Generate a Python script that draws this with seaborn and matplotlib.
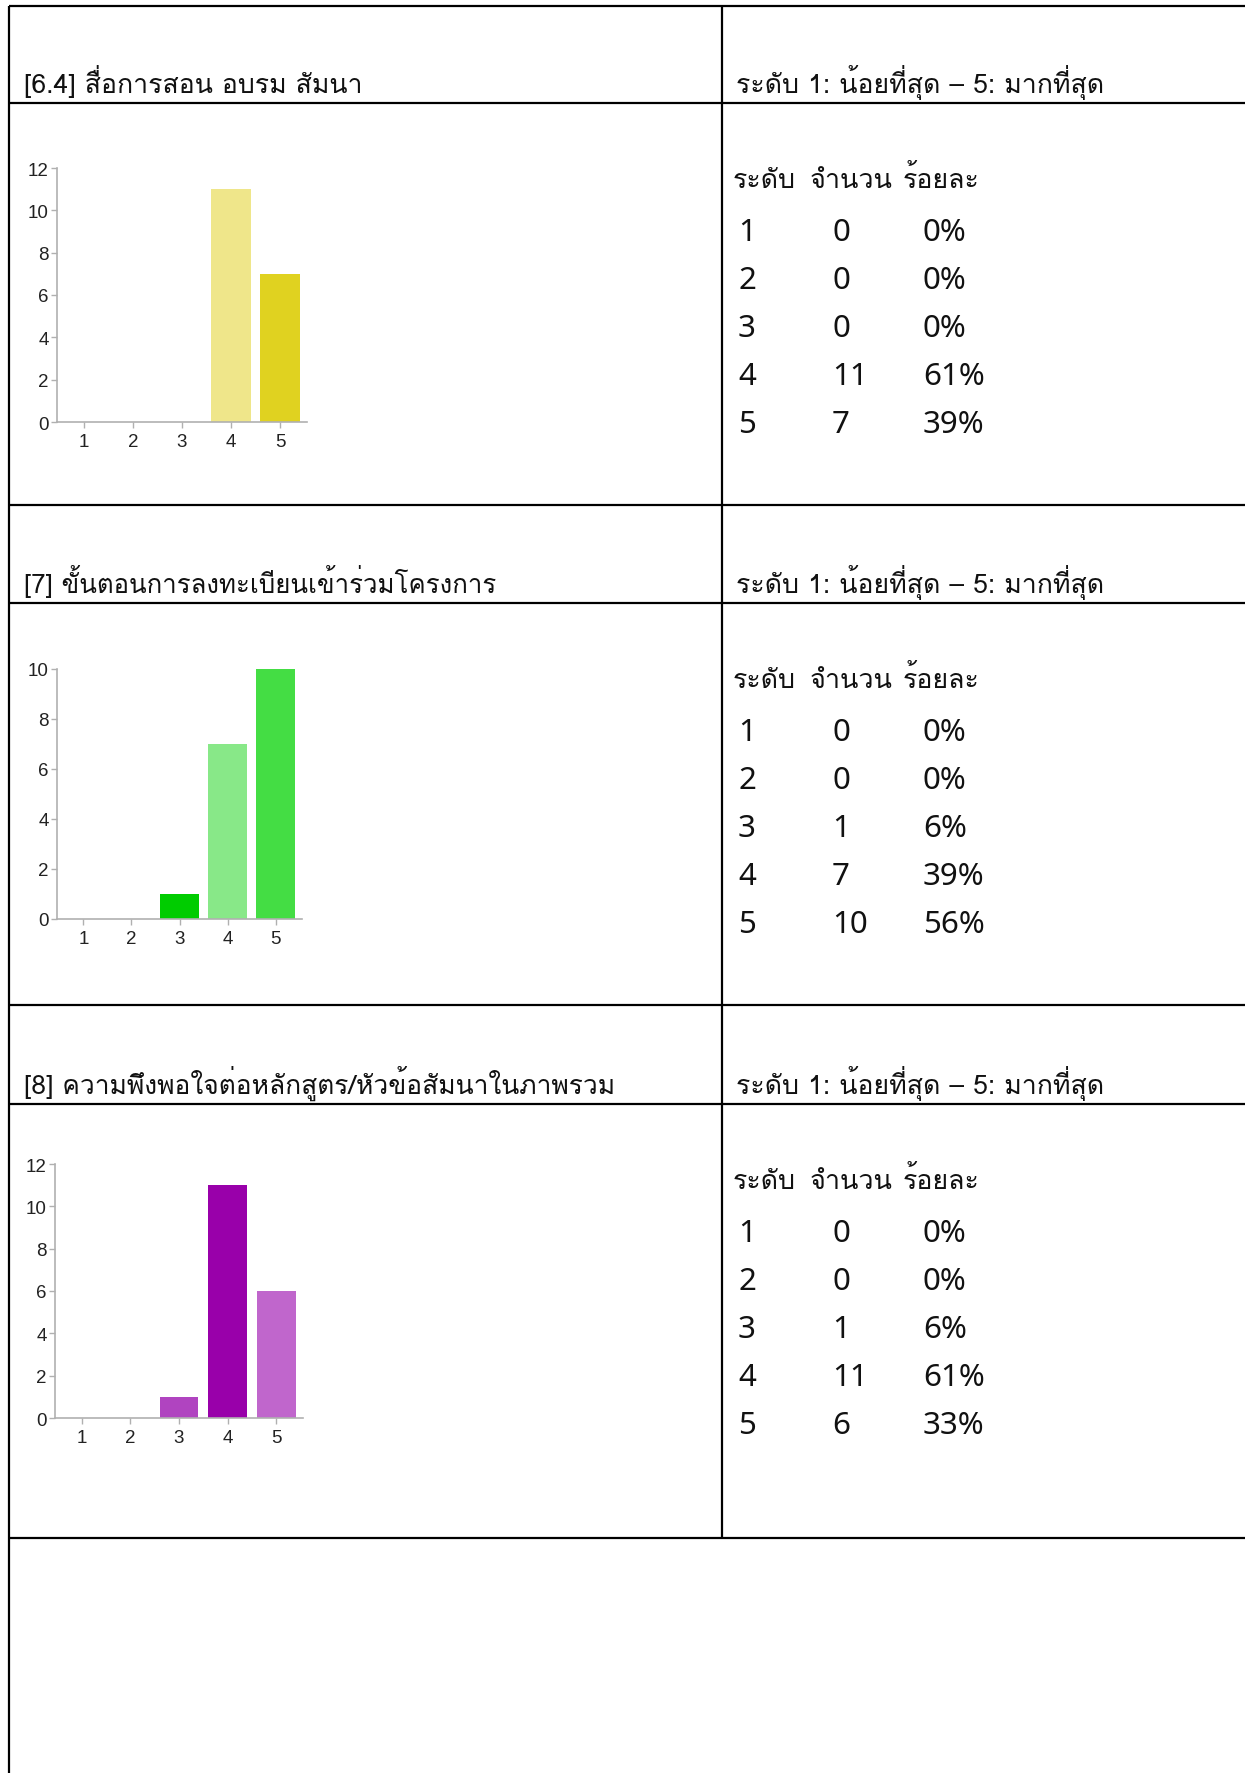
import matplotlib
matplotlib.use("Agg")
import matplotlib.pyplot as plt
import seaborn as sns
import pandas as pd
from matplotlib import font_manager
from matplotlib.ft2font import FT2Font

# ---------------- data ----------------
levels = ["1", "2", "3", "4", "5"]
titles = ["[6.4] สื่อการสอน อบรม สัมนา",
          "[7] ขั้นตอนการลงทะเบียนเข้าร่วมโครงการ",
          "[8] ความพึงพอใจต่อหลักสูตร/หัวข้อสัมนาในภาพรวม"]
scale_label = "ระดับ 1: น้อยที่สุด – 5: มากที่สุด"
table_header = ["ระดับ", "จำนวน", "ร้อยละ"]
counts_64 = [0, 0, 0, 11, 7]
counts_7 = [0, 0, 1, 7, 10]
counts_8 = [0, 0, 1, 11, 6]
pct_64 = ["0%", "0%", "0%", "61%", "39%"]
pct_7 = ["0%", "0%", "6%", "39%", "56%"]
pct_8 = ["0%", "0%", "6%", "61%", "33%"]
yticks_64 = [0, 2, 4, 6, 8, 10, 12]
yticks_7 = [0, 2, 4, 6, 8, 10]
yticks_8 = [0, 2, 4, 6, 8, 10, 12]
colors_64 = ["#e8de60", "#e4da48", "#eae276", "#efe68a", "#e0d220"]
colors_7 = ["#33dd33", "#66e066", "#00cc00", "#88e888", "#44dd44"]
colors_8 = ["#a030b0", "#c070cc", "#b044c0", "#9900aa", "#c066cc"]

# ---------------- fonts ----------------
thai_names = []
seen = set()
for f in font_manager.fontManager.ttflist:
    if f.fname in seen:
        continue
    seen.add(f.fname)
    try:
        cm = FT2Font(f.fname).get_charmap()
    except Exception:
        continue
    if 0x0E01 in cm and 0x0E2A in cm and f.name not in thai_names:
        thai_names.append(f.name)

# Loma places stacked Thai marks correctly without a text shaper
thai_family = None
for cand in ["Loma", "Noto Sans Thai Looped", "Noto Sans Thai", "Sarabun"]:
    if cand in thai_names:
        thai_family = cand
        break
if thai_family is None and thai_names:
    thai_family = thai_names[0]

sns.set_theme(style="white")
fams = ([thai_family] if thai_family else []) + ["Noto Sans", "DejaVu Sans"]
plt.rcParams["font.family"] = fams

W, H = 1245, 1774
fig = plt.figure(figsize=(W / 100, H / 100), dpi=100)
renderer = fig.canvas.get_renderer()

ov = fig.add_axes([0, 0, 1, 1], zorder=0)
ov.set_xlim(0, W)
ov.set_ylim(H, 0)
ov.axis("off")


def fit_text(x, y, s, target_w, base=20):
    t = ov.text(x, y, s, fontsize=base, va="baseline", ha="left", color="#111111")
    w = t.get_window_extent(renderer=renderer).width
    if w > 0:
        t.set_fontsize(base * target_w / w)
    return t


lw = 1.6
xl, xm, xr = 9, 722, W
hlines = [7, 104, 506, 604, 1006, 1105, 1539]
for y in hlines:
    ov.plot([xl, xr], [y, y], color="black", lw=lw, solid_capstyle="butt")
ov.plot([xl, xl], [7, H], color="black", lw=lw, solid_capstyle="butt")
ov.plot([xm, xm], [7, 1539], color="black", lw=lw, solid_capstyle="butt")

title_base = [93, 593, 1094]
title_w = [338, 472, 591]
sect_top = [104, 604, 1105]
pcts = [pct_64, pct_7, pct_8]
counts_all = [counts_64, counts_7, counts_8]

rfs = 22.5
num_font = ["Noto Sans", "DejaVu Sans"]
for i in range(3):
    fit_text(24, title_base[i], titles[i], title_w[i])
    fit_text(736, title_base[i], scale_label, 368)
    top = sect_top[i]
    hb = top + 84
    fit_text(733, hb, table_header[0], 63)
    fit_text(810, hb, table_header[1], 83)
    fit_text(903, hb, table_header[2], 77)
    for k in range(5):
        yb = top + 137 + 48 * k
        ov.text(738, yb, levels[k], fontsize=rfs, va="baseline", ha="left",
                color="#111111", family=num_font)
        ov.text(832, yb, str(counts_all[i][k]), fontsize=rfs, va="baseline", ha="left",
                color="#111111", family=num_font)
        ov.text(923, yb, pcts[i][k], fontsize=rfs, va="baseline", ha="left",
                color="#111111", family=num_font)

# ---------------- bar charts ----------------
charts = [
    (counts_64, colors_64, yticks_64, 57, 307, 169, 423),
    (counts_7, colors_7, yticks_7, 57, 302, 670, 920),
    (counts_8, colors_8, yticks_8, 55, 303, 1165, 1419),
]
for counts, cols, yt, x0, x1, ytop, ybot in charts:
    ax = fig.add_axes([x0 / W, 1 - ybot / H, (x1 - x0) / W, (ybot - ytop) / H], zorder=2)
    ax.set_facecolor("none")
    df = pd.DataFrame({"level": levels, "count": counts})
    sns.barplot(data=df, x="level", y="count", hue="level", palette=cols,
                order=levels, hue_order=levels, legend=False, width=0.8,
                saturation=1, ax=ax, edgecolor="none", linewidth=0)
    ax.set_xlim(-0.55, 4.55)
    ax.set_ylim(0, max(yt))
    ax.set_yticks(yt)
    ax.set_xlabel("")
    ax.set_ylabel("")
    for s in ["top", "right"]:
        ax.spines[s].set_visible(False)
    for s in ["left", "bottom"]:
        ax.spines[s].set_color("#b0b0b0")
        ax.spines[s].set_linewidth(1.2)
    ax.tick_params(axis="both", which="major", length=4, width=1, color="#b0b0b0",
                   labelcolor="#222222", labelsize=13.5, direction="out",
                   bottom=True, left=True)
    ax.tick_params(axis="x", pad=4)
    ax.tick_params(axis="y", pad=2)
    for lab in ax.get_xticklabels() + ax.get_yticklabels():
        lab.set_family(["Liberation Sans", "DejaVu Sans"])
    ax.grid(False)

fig.savefig("out.png", dpi=100)
